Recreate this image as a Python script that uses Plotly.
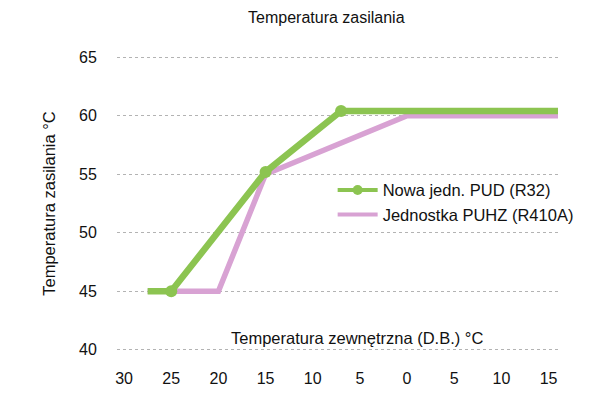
import plotly.graph_objects as go

# Data (outdoor temperature in °C, axis reversed; flow temperature in °C)
pud_x = [27.5, 25, 15, 7, -16]
pud_y = [45, 45, 55.2, 60.4, 60.4]
pud_marker_x = [25, 15, 7]
pud_marker_y = [45, 55.2, 60.4]

puhz_x = [27.5, 20, 15, 0, -16]
puhz_y = [45, 45, 55, 60, 60]

x_tick_vals = [30, 25, 20, 15, 10, 5, 0, -5, -10, -15]
x_tick_text = ["30", "25", "20", "15", "10", "5", "0", "5", "10", "15"]
y_tick_vals = [40, 45, 50, 55, 60, 65]

FONT = "Liberation Sans, Arial, sans-serif"
GREEN = "#8cc451"
PINK = "#d8a2d3"

fig = go.Figure()
fig.add_trace(go.Scatter(
    x=puhz_x, y=puhz_y, mode="lines", name="Jednostka PUHZ (R410A)",
    line=dict(color=PINK, width=5.5), showlegend=False,
))
fig.add_trace(go.Scatter(
    x=pud_x, y=pud_y, mode="lines", name="Nowa jedn. PUD (R32)",
    line=dict(color=GREEN, width=6.5), showlegend=False,
))
fig.add_trace(go.Scatter(
    x=pud_marker_x, y=pud_marker_y, mode="markers", name="Nowa jedn. PUD (R32)",
    marker=dict(color=GREEN, size=12), showlegend=False,
))
# legend entries
fig.add_trace(go.Scatter(
    x=[None], y=[None], mode="lines", name="Jednostka PUHZ (R410A)",
    line=dict(color=PINK, width=4),
))
fig.add_trace(go.Scatter(
    x=[None], y=[None], mode="lines+markers", name="Nowa jedn. PUD (R32)",
    line=dict(color=GREEN, width=4), marker=dict(color=GREEN, size=10),
))

fig.update_layout(
    width=604, height=398,
    margin=dict(l=109, r=54, t=48, b=55),
    paper_bgcolor="white", plot_bgcolor="white",
    font=dict(family=FONT, size=16, color="#111"),
    title=dict(text="Temperatura zasilania", x=0.527, xanchor="center",
               y=0.99, yanchor="top", font=dict(size=16, color="#111")),
    showlegend=True,
    legend=dict(x=0.489, y=0.604, xanchor="left", yanchor="top",
                traceorder="reversed", bgcolor="rgba(0,0,0,0)",
                font=dict(size=16.5, color="#111"), tracegroupgap=0,
                itemwidth=40),
    xaxis=dict(range=[30.75, -16], tickvals=x_tick_vals, ticktext=x_tick_text,
               showgrid=False, zeroline=False, showline=False, automargin=False,
               ticks="outside", ticklen=13, tickcolor="rgba(0,0,0,0)",
               tickfont=dict(size=16, color="#111")),
    yaxis=dict(range=[39.9, 65.1], tickvals=y_tick_vals, automargin=False,
               showgrid=True, gridcolor="#b3b3b3", griddash="dot", gridwidth=1,
               zeroline=False, showline=False,
               ticks="outside", ticklen=16, tickcolor="rgba(0,0,0,0)",
               tickfont=dict(size=16, color="#111"),
               title=dict(text="Temperatura zasilania °C", standoff=19,
                          font=dict(size=16.5, color="#111"))),
)

fig.add_annotation(
    text="Temperatura zewnętrzna (D.B.) °C", xref="paper", yref="paper",
    x=0.545, y=0.044, xanchor="center", yanchor="middle", showarrow=False,
    font=dict(size=16.5, color="#111"),
)

fig.write_html("out.html")
